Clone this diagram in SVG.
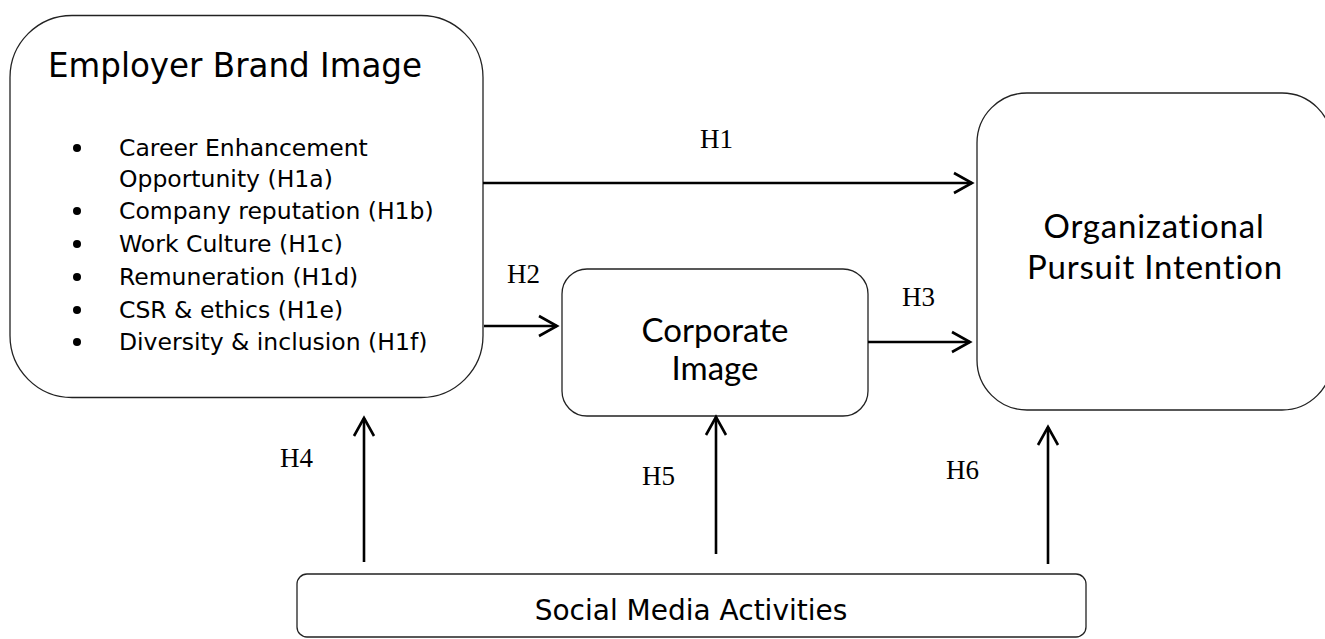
<svg xmlns="http://www.w3.org/2000/svg" width="1325" height="639" viewBox="0 0 1325 639">
<style>
.box{fill:#fff;stroke:#222;stroke-width:1.3}
.t1{font-family:"DejaVu Sans",Verdana,sans-serif;fill:#000}
.t2{font-family:Lato,"Open Sans",sans-serif;fill:#000}
.h{font-family:"Liberation Serif","Times New Roman",serif;font-size:27px;fill:#000}
.c{fill:none;stroke:#000;stroke-width:2.6}
</style>
<defs>
<marker id="ah" markerUnits="userSpaceOnUse" viewBox="-22 -12 26 24" markerWidth="26" markerHeight="24" refX="0" refY="0" orient="auto">
<path d="M-18,-10 L0,0 L-18,10" fill="none" stroke="#000" stroke-width="2.6"/>
</marker>
</defs>
<rect width="1325" height="639" fill="#fff"/>
<g id="employer-brand-image">
<rect class="box" x="10" y="15.5" width="473" height="382" rx="62" ry="62"/>
<text class="t1" x="48" y="77" font-size="33" textLength="374" lengthAdjust="spacingAndGlyphs">Employer Brand Image</text>
<g fill="#000">
<circle cx="77" cy="148" r="4"/>
<circle cx="77" cy="211" r="4"/>
<circle cx="77" cy="244" r="4"/>
<circle cx="77" cy="277" r="4"/>
<circle cx="77" cy="310" r="4"/>
<circle cx="77" cy="342" r="4"/>
</g>
<g class="t1" font-size="23.5">
<text x="119" y="156">Career Enhancement</text>
<text x="119" y="187">Opportunity (H1a)</text>
<text x="119" y="219">Company reputation (H1b)</text>
<text x="119" y="252">Work Culture (H1c)</text>
<text x="119" y="285">Remuneration (H1d)</text>
<text x="119" y="318">CSR &amp; ethics (H1e)</text>
<text x="119" y="350">Diversity &amp; inclusion (H1f)</text>
</g>
</g>
<g id="corporate-image">
<rect class="box" x="562" y="269" width="306" height="147" rx="25" ry="25"/>
<text class="t2" x="715" y="342" font-size="33" text-anchor="middle">Corporate</text>
<text class="t2" x="715" y="380" font-size="33" text-anchor="middle">Image</text>
</g>
<g id="organizational-pursuit-intention">
<rect class="box" x="977" y="93" width="355" height="317" rx="50" ry="50"/>
<text class="t2" x="1154" y="238" font-size="33" letter-spacing="0.8" text-anchor="middle">Organizational</text>
<text class="t2" x="1155" y="279" font-size="33" letter-spacing="0.8" text-anchor="middle">Pursuit Intention</text>
</g>
<g id="social-media-activities">
<rect class="box" x="297" y="574" width="789" height="63" rx="10" ry="10"/>
<text class="t1" x="691" y="620" font-size="28" text-anchor="middle">Social Media Activities</text>
</g>
<g id="connectors">
<line class="c" x1="483" y1="183" x2="972" y2="183" marker-end="url(#ah)"/>
<line class="c" x1="484" y1="326" x2="557" y2="326" marker-end="url(#ah)"/>
<line class="c" x1="868" y1="342" x2="970" y2="342" marker-end="url(#ah)"/>
<line class="c" x1="364" y1="562" x2="364" y2="418" marker-end="url(#ah)"/>
<line class="c" x1="716" y1="554" x2="716" y2="417" marker-end="url(#ah)"/>
<line class="c" x1="1048" y1="564" x2="1048" y2="427" marker-end="url(#ah)"/>
</g>
<g id="labels">
<text class="h" x="700" y="148">H1</text>
<text class="h" x="507" y="283" font-size="22">H2</text>
<text class="h" x="902" y="306">H3</text>
<text class="h" x="280" y="467">H4</text>
<text class="h" x="642" y="485">H5</text>
<text class="h" x="946" y="479">H6</text>
</g>
</svg>
